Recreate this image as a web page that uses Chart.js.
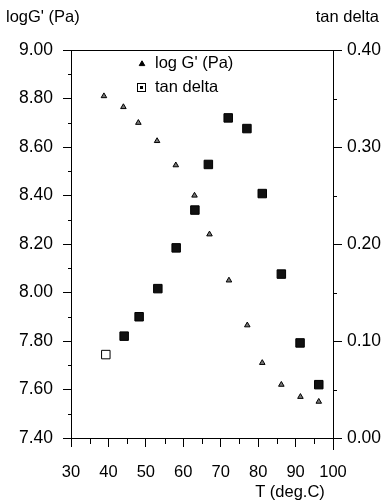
<!DOCTYPE html>
<html>
<head>
<meta charset="utf-8">
<script src="https://cdn.jsdelivr.net/npm/chart.js@4"></script>
<style>
  html, body { margin: 0; padding: 0; background: #fff; }
  #wrap { width: 384px; height: 503px; }
</style>
</head>
<body>
<div id="wrap"><canvas id="dmaChart" width="384" height="503"></canvas></div>
<script>
// ===================================
// DATA
// ===================================
const TEMP_G = [38.8, 44.0, 48.0, 53.0, 58.0, 63.0, 67.0, 72.2, 77.1, 81.1, 86.2, 91.3, 96.2];
const LOG_G = [8.81, 8.765, 8.70, 8.625, 8.525, 8.40, 8.24, 8.05, 7.865, 7.71, 7.62, 7.57, 7.55];

const TEMP_TAN = [39.3, 44.2, 48.2, 53.2, 58.1, 63.1, 66.7, 72.0, 77.0, 81.1, 86.2, 91.2, 96.2];
const TAN_DELTA = [0.086, 0.105, 0.125, 0.154, 0.196, 0.235, 0.282, 0.330, 0.319, 0.252, 0.169, 0.098, 0.055];

const X_TICKS = [30, 40, 50, 60, 70, 80, 90, 100];
const LEFT_TICKS = [7.4, 7.6, 7.8, 8.0, 8.2, 8.4, 8.6, 8.8, 9.0];
const RIGHT_TICKS = [0.0, 0.1, 0.2, 0.3, 0.4];

const FONT = 'Liberation Sans, Arial, sans-serif';

// ===================================
// Extra drawing: titles, minor ticks, top border, legend
// ===================================
const decorPlugin = {
    id: 'decor',
    afterDraw(chart) {
        const ctx = chart.ctx;
        const area = chart.chartArea;
        const sx = chart.scales.x;
        const sy = chart.scales.y;
        const sy1 = chart.scales.y1;

        ctx.save();
        ctx.strokeStyle = '#000';
        ctx.lineWidth = 1;

        // top border
        ctx.beginPath();
        ctx.moveTo(area.left, area.top + 0.5);
        ctx.lineTo(area.right, area.top + 0.5);
        ctx.stroke();

        // minor ticks
        ctx.beginPath();
        for (let v = 35; v < 100; v += 10) {
            const px = Math.round(sx.getPixelForValue(v)) + 0.5;
            ctx.moveTo(px, area.bottom);
            ctx.lineTo(px, area.bottom + 6);
        }
        for (let i = 0; i < LEFT_TICKS.length - 1; i++) {
            const v = (LEFT_TICKS[i] + LEFT_TICKS[i + 1]) / 2;
            const py = Math.round(sy.getPixelForValue(v)) + 0.5;
            ctx.moveTo(area.left, py);
            ctx.lineTo(area.left - 3, py);
        }
        for (let i = 0; i < RIGHT_TICKS.length - 1; i++) {
            const v = (RIGHT_TICKS[i] + RIGHT_TICKS[i + 1]) / 2;
            const py = Math.round(sy1.getPixelForValue(v)) + 0.5;
            ctx.moveTo(area.right, py);
            ctx.lineTo(area.right + 4, py);
        }
        // right axis runs a bit below the bottom
        ctx.moveTo(area.right + 0.5, area.bottom);
        ctx.lineTo(area.right + 0.5, area.bottom + 12);
        ctx.stroke();

        // axis titles
        ctx.fillStyle = '#000';
        ctx.font = '16.5px ' + FONT;
        ctx.textBaseline = 'middle';
        ctx.textAlign = 'left';
        ctx.fillText("logG' (Pa)", 6, 17);
        ctx.textAlign = 'right';
        ctx.fillText('tan delta', 379, 17);
        ctx.textAlign = 'center';
        ctx.fillText('T (deg.C)', 290, 492);

        // legend
        Chart.helpers.drawPoint(ctx, {
            pointStyle: 'triangle', radius: 3.2, rotation: 0, borderWidth: 1
        }, 142, 64);
        ctx.fillStyle = '#000';
        ctx.strokeRect(137.5, 83.5, 8, 8);
        ctx.fillRect(140, 86, 3, 3);
        ctx.textAlign = 'left';
        ctx.font = '16.5px ' + FONT;
        ctx.fillText("log G' (Pa)", 155, 63);
        ctx.fillText('tan delta', 155, 87);

        ctx.restore();
    }
};

// ===================================
// Chart
// ===================================
function initChart() {
    const ctx = document.getElementById('dmaChart').getContext('2d');

    new Chart(ctx, {
        type: 'scatter',
        data: {
            datasets: [{
                label: "log G' (Pa)",
                data: TEMP_G.map((t, i) => ({ x: t, y: LOG_G[i] })),
                yAxisID: 'y',
                pointStyle: 'triangle',
                pointRadius: 3.2,
                backgroundColor: '#777',
                borderColor: '#000',
                borderWidth: 1
            }, {
                label: 'tan delta',
                data: TEMP_TAN.map((t, i) => ({ x: t, y: TAN_DELTA[i] })),
                yAxisID: 'y1',
                pointStyle: 'rect',
                pointRadius: 6,
                backgroundColor: c => c.dataIndex === 0 ? '#fff' : '#111',
                borderColor: '#000',
                borderWidth: 1
            }]
        },
        options: {
            responsive: false,
            animation: false,
            layout: { padding: { top: 50, left: 0, right: 0, bottom: 0 } },
            plugins: {
                legend: { display: false },
                tooltip: { enabled: false }
            },
            scales: {
                x: {
                    type: 'linear',
                    min: 30,
                    max: 100,
                    afterBuildTicks: s => { s.ticks = X_TICKS.map(v => ({ value: v })); },
                    afterFit: s => { s.height = 65; },
                    border: { display: true, color: '#000', width: 1 },
                    grid: { drawOnChartArea: false, drawTicks: true, tickLength: 9, color: '#000' },
                    ticks: {
                        color: '#000',
                        padding: 16,
                        maxRotation: 0,
                        font: { family: FONT, size: 16.5 },
                        callback: v => String(v)
                    }
                },
                y: {
                    position: 'left',
                    min: 7.4,
                    max: 9.0,
                    afterBuildTicks: s => { s.ticks = LEFT_TICKS.map(v => ({ value: v })); },
                    afterFit: s => { s.width = 71; },
                    border: { display: true, color: '#000', width: 1 },
                    grid: { drawOnChartArea: false, drawTicks: true, tickLength: 8, color: '#000' },
                    ticks: {
                        color: '#000',
                        padding: 10,
                        font: { family: FONT, size: 17.5 },
                        callback: v => Number(v).toFixed(2)
                    }
                },
                y1: {
                    position: 'right',
                    min: 0,
                    max: 0.4,
                    afterBuildTicks: s => { s.ticks = RIGHT_TICKS.map(v => ({ value: v })); },
                    afterFit: s => { s.width = 51; },
                    border: { display: true, color: '#000', width: 1 },
                    grid: { drawOnChartArea: false, drawTicks: true, tickLength: 9, color: '#000' },
                    ticks: {
                        color: '#000',
                        padding: 5,
                        font: { family: FONT, size: 17.5 },
                        callback: v => Number(v).toFixed(2)
                    }
                }
            }
        },
        plugins: [decorPlugin]
    });
}

initChart();
</script>
</body>
</html>
